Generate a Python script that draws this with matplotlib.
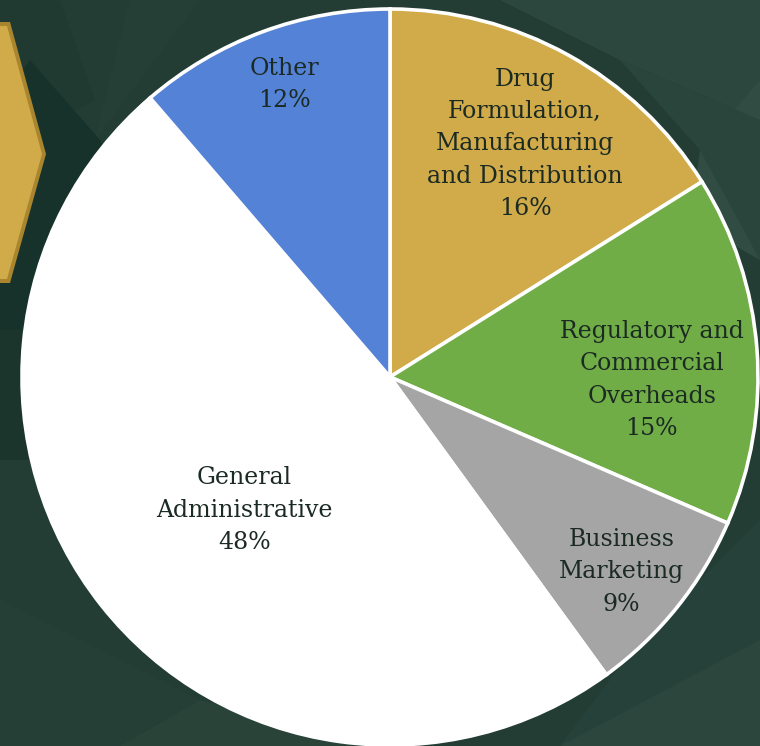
import matplotlib
matplotlib.use("Agg")
import matplotlib.pyplot as plt
from matplotlib.patches import Polygon
import numpy as np

# ---- data ----
categories = ["Drug\nFormulation,\nManufacturing\nand Distribution",
              "Regulatory and\nCommercial\nOverheads",
              "Business\nMarketing",
              "General\nAdministrative",
              "Other"]
shares = [16.1, 15.4, 8.5, 48.7, 11.3]          # wedge sizes
pct_labels = ["16%", "15%", "9%", "48%", "12%"]  # labels as printed

# ---- style ----
colors = ["#D1AB49", "#70AD47", "#A5A5A5", "#FFFFFF", "#5482D6"]
label_dist = [0.732, 0.711, 0.822, 0.537, 0.845]   # fraction of radius
label_turn = [-1.1, -5.0, -1.4, 4.1, -0.4]         # degrees from mid-angle
text_color = "#1B2A23"
W, H = 760, 746

fig = plt.figure(figsize=(W / 100, H / 100), dpi=100)
fig.patch.set_facecolor("#233D34")
ax = fig.add_axes([0, 0, 1, 1])
ax.set_xlim(0, W)
ax.set_ylim(0, H)
ax.set_aspect("equal")
ax.axis("off")

def poly(pts, color, z=0, **kw):
    p = Polygon([(x, H - y) for x, y in pts], closed=True, facecolor=color,
                edgecolor="none", zorder=z, **kw)
    ax.add_patch(p)

# background facets
poly([(0, 0), (760, 0), (760, 746), (0, 746)], "#233D34")
poly([(0, 0), (60, 0), (95, 100), (0, 150)], "#203A31")
poly([(130, 0), (200, 0), (95, 140)], "#253F36")
poly([(30, 60), (100, 140), (130, 200), (60, 330), (0, 330), (0, 100)], "#16322A")
poly([(0, 330), (60, 330), (30, 460), (0, 460)], "#1B352D")
poly([(500, 0), (760, 0), (760, 120), (620, 60)], "#2C473E")
poly([(700, 150), (760, 80), (760, 260), (690, 220)], "#314C43")
poly([(620, 60), (760, 120), (760, 260), (700, 150)], "#2A453C")
poly([(760, 520), (760, 746), (560, 746), (640, 640)], "#26413A")
poly([(560, 746), (760, 640), (760, 746)], "#2C463D")
poly([(0, 600), (200, 700), (120, 746), (0, 746)], "#253E36")
poly([(200, 700), (400, 746), (120, 746)], "#294339")
# gold hexagon at left edge
poly([(0, 22), (10, 22), (46, 154), (10, 283), (0, 283)], "#A9852F")
poly([(0, 26), (7, 26), (42, 154), (7, 279), (0, 279)], "#D1AB49")

cx, cy, r = 390, H - 377, 368
wedges, _ = ax.pie(shares, colors=colors, startangle=90, counterclock=False,
                   center=(cx, cy), radius=r, frame=True,
                   wedgeprops=dict(edgecolor="white", linewidth=2.6))
for w in wedges:
    w.set_zorder(5)
ax.set_xlim(0, W)
ax.set_ylim(0, H)
ax.axis("off")

for w, name, pct, d, t in zip(wedges, categories, pct_labels, label_dist, label_turn):
    ang = np.deg2rad((w.theta1 + w.theta2) / 2 + t)
    x = cx + d * r * np.cos(ang)
    y = cy + d * r * np.sin(ang)
    ax.text(x, y, f"{name}\n{pct}", ha="center", va="center",
            multialignment="center", fontsize=17, family="DejaVu Serif",
            color=text_color, linespacing=1.52, zorder=10)

fig.savefig("out.png", dpi=100, facecolor=fig.get_facecolor())
